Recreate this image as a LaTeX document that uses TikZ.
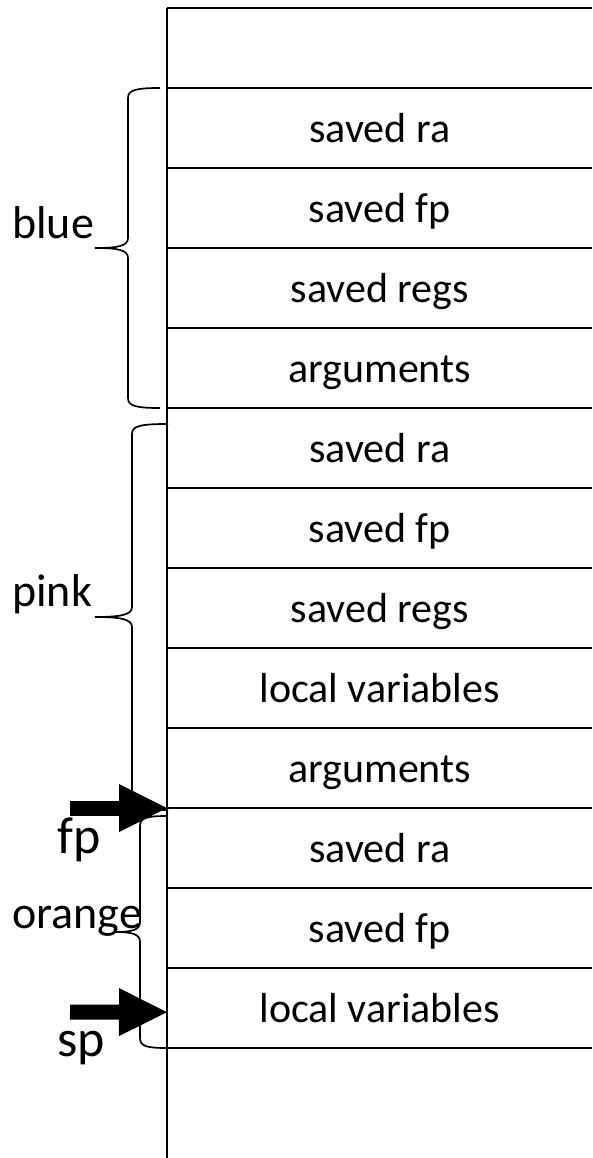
\documentclass[tikz,border=0pt]{standalone}
\usepackage{fontspec}
\setmainfont{Carlito}
\usetikzlibrary{arrows.meta}

\begin{document}
\begin{tikzpicture}[x=1pt,y=-1pt]
\tikzset{slot/.style = {anchor=north west, minimum width=425pt, minimum height=80pt, inner sep=0pt, text height=29pt, text depth=0pt, font=\fontsize{42}{50}\selectfont}}
\tikzset{frame/.style = {line width=2pt}}
\tikzset{brace/.style = {line width=1.7pt}}
\tikzset{tag/.style = {anchor=base west, inner sep=0pt, font=\fontsize{46}{55}\selectfont}}
\tikzset{reg/.style = {anchor=base west, inner sep=0pt, font=\fontsize{52}{62}\selectfont}}
\tikzset{ptr/.style = {line width=15pt, -{Triangle[length=48pt 0, width=48pt 0, line width=0pt]}}}
\useasboundingbox (0,0) rectangle (592,1158);
% stack slots
\node[slot] (top) at (167,8) {};
\node[slot] (ra1) at (167,88) {saved ra};
\node[slot] (fp1) at (167,168) {saved fp};
\node[slot] (regs1) at (167,248) {saved regs};
\node[slot] (args1) at (167,328) {arguments};
\node[slot] (ra2) at (167,408) {saved ra};
\node[slot] (fp2) at (167,488) {saved fp};
\node[slot] (regs2) at (167,568) {saved regs};
\node[slot] (lv1) at (167,648) {local variables};
\node[slot] (args2) at (167,728) {arguments};
\node[slot] (ra3) at (167,808) {saved ra};
\node[slot] (fp3) at (167,888) {saved fp};
\node[slot] (lv2) at (167,968) {local variables};
\coordinate (floor) at (167,1158);
%lines
\draw[frame] (top.north west) -- (top.north east)
  (top.south west) -- (top.south east)
  (ra1.south west) -- (ra1.south east)
  (fp1.south west) -- (fp1.south east)
  (regs1.south west) -- (regs1.south east)
  (args1.south west) -- (args1.south east)
  (ra2.south west) -- (ra2.south east)
  (fp2.south west) -- (fp2.south east)
  (regs2.south west) -- (regs2.south east)
  (lv1.south west) -- (lv1.south east)
  (args2.south west) -- (args2.south east)
  (ra3.south west) -- (ra3.south east)
  (fp3.south west) -- (fp3.south east)
  (lv2.south west) -- (lv2.south east);
\draw[frame] (top.north west) -- (floor);

% braces
\draw[brace] (160,88) .. controls (136,88) and (128,90) .. (128,98) -- (128,238)
  .. controls (128,246) and (118,248) .. (95,248) .. controls (118,248) and (128,250) .. (128,258)
  -- (128,398) .. controls (128,406) and (136,408) .. (160,408);
\draw[brace] (168,424) .. controls (140,424) and (132,426) .. (132,434) -- (132,607)
  .. controls (132,615) and (120,617) .. (95,617) .. controls (120,617) and (132,619) .. (132,627)
  -- (132,800) .. controls (132,808) and (140,810) .. (168,810);
\draw[brace] (167,816) .. controls (146,816) and (140,818) .. (140,826) -- (140,922)
  .. controls (140,930) and (132,932) .. (115,932) .. controls (132,932) and (140,934) .. (140,942)
  -- (140,1038) .. controls (140,1046) and (146,1048) .. (167,1048);

% labels
\node[tag] (bluelbl) at (12,239) {blue};
\node[tag] (pinklbl) at (12,606) {pink};
\node[tag] (orangelbl) at (12,928) {orange};
\node[reg] (fplbl) at (57,853) {fp};
\node[reg] (splbl) at (57,1056) {sp};

% pointers
\coordinate (fptail) at (70,808);
\coordinate (sptail) at (70,1012);
\draw[ptr] (fptail) -- (ra3.north west);
\draw[ptr] (sptail) -- ([yshift=-4pt]lv2.west);
\end{tikzpicture}
\end{document}
